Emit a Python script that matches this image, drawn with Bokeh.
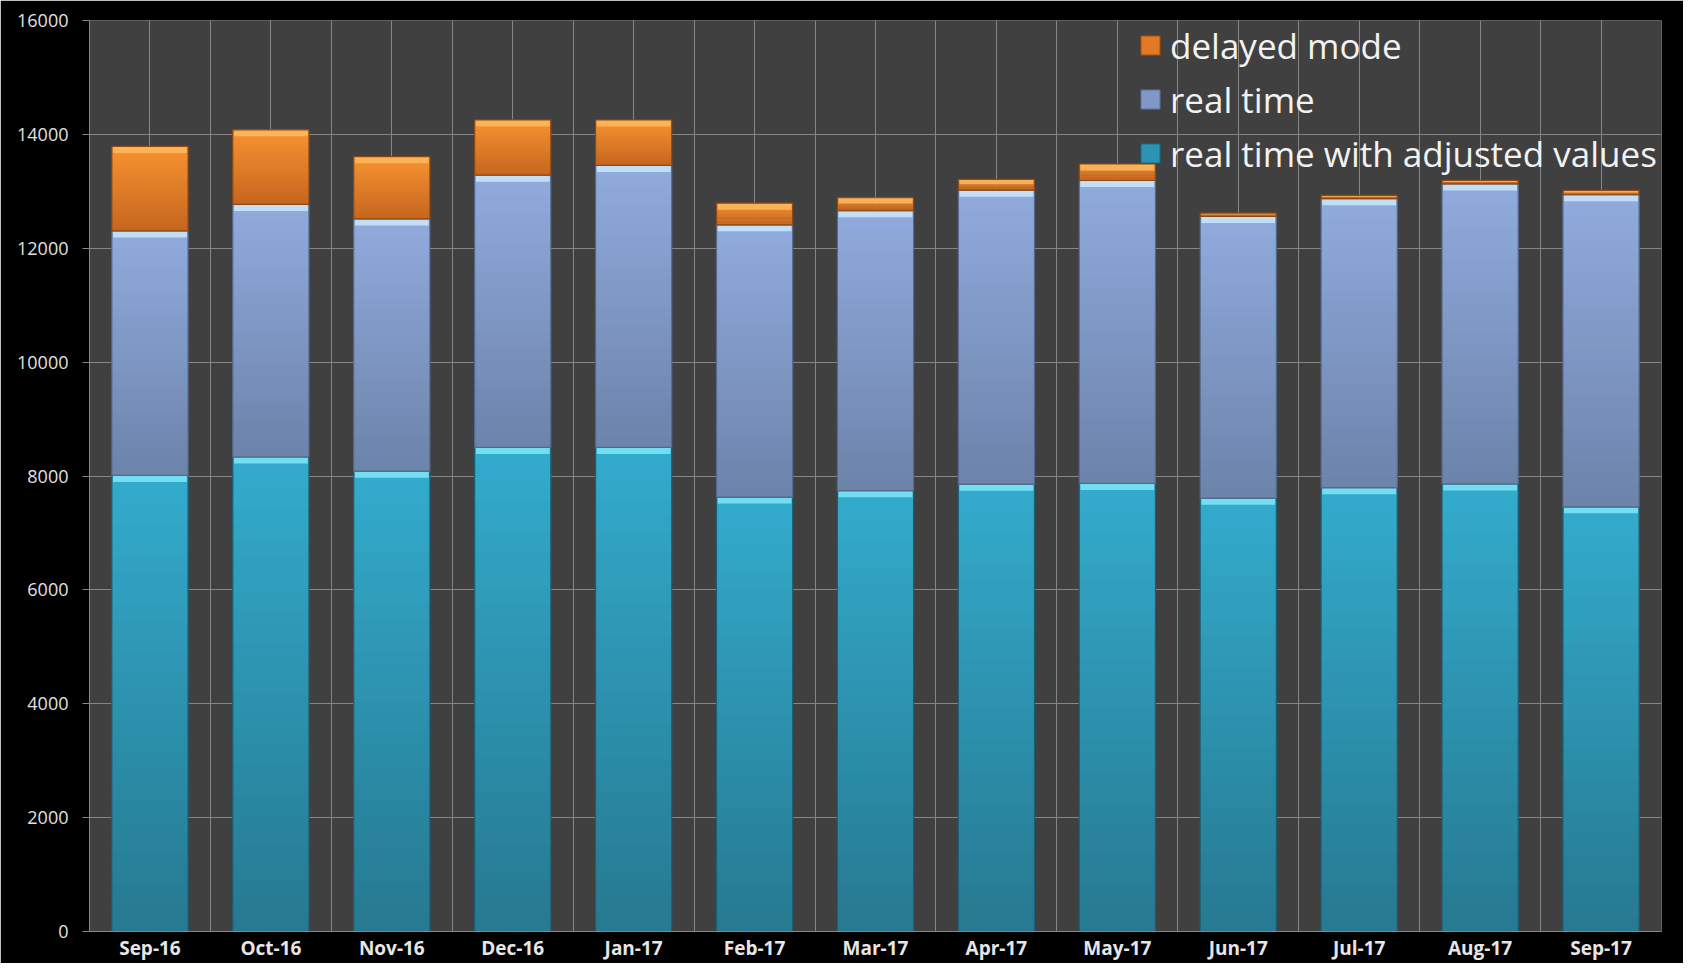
import numpy as np
from bokeh.plotting import figure
from bokeh.models import FixedTicker, Legend, LegendItem, Range1d, NumeralTickFormatter, ColumnDataSource
from bokeh.embed import file_html
from bokeh.resources import INLINE

# ---------------- data ----------------
months = ["Sep-16", "Oct-16", "Nov-16", "Dec-16", "Jan-17", "Feb-17", "Mar-17",
          "Apr-17", "May-17", "Jun-17", "Jul-17", "Aug-17", "Sep-17"]
adjusted = [8010, 8335, 8085, 8503, 8503, 7630, 7743, 7857, 7870, 7611, 7795, 7860, 7459]
real_time = [4295, 4435, 4430, 4782, 4953, 4782, 4916, 5163, 5320, 4949, 5075, 5270, 5481]
delayed = [1485, 1310, 1093, 968, 797, 380, 228, 189, 290, 58, 60, 63, 75]
y_ticks = [0, 2000, 4000, 6000, 8000, 10000, 12000, 14000, 16000]
series_names = ["delayed mode", "real time", "real time with adjusted values"]

# ---------------- styling ----------------
BAR_W = 0.63
N_SLICES = 28
FONT = "Open Sans"
STYLE = {
    "adjusted": dict(top="#33abcd", bot="#267990", hi="#7fe6f7", edge="#1d5f72", leg="#2c93b3"),
    "real_time": dict(top="#90abdd", bot="#6c83aa", hi="#cce8fc", edge="#56698c", leg="#7f98c8"),
    "delayed": dict(top="#f89331", bot="#c5661f", hi="#fdba5e", edge="#8f4813", leg="#e27a25"),
}


def hex2rgb(h):
    h = h.lstrip("#")
    return np.array([int(h[i:i + 2], 16) for i in (0, 2, 4)], dtype=float)


def mix(c_bot, c_top, f):
    a, b = hex2rgb(c_bot), hex2rgb(c_top)
    c = a + (b - a) * f
    return "#%02x%02x%02x" % tuple(int(round(v)) for v in c)


xc = np.arange(len(months)) + 0.5
adj = np.array(adjusted, float)
rt = np.array(real_time, float)
dl = np.array(delayed, float)
stack_lo = {"adjusted": np.zeros_like(adj), "real_time": adj, "delayed": adj + rt}
stack_hi = {"adjusted": adj, "real_time": adj + rt, "delayed": adj + rt + dl}

p = figure(width=1683, height=963, output_backend="svg", toolbar_location=None,
           x_range=Range1d(0, 13), y_range=Range1d(0, 16000),
           min_border_left=89, min_border_right=22, min_border_top=20, min_border_bottom=29,
           background_fill_color="#404040", border_fill_color="#000000")
p.outline_line_color = None

for key in ["adjusted", "real_time", "delayed"]:
    st = STYLE[key]
    lo_all, hi_all = stack_lo[key], stack_hi[key]
    xs, bs, ts, cs = [], [], [], []
    for xi, lo, hi in zip(xc, lo_all, hi_all):
        edges = np.linspace(lo, hi, N_SLICES + 1)
        step = edges[1] - edges[0]
        for k in range(N_SLICES):
            xs.append(xi)
            bs.append(edges[k])
            ts.append(min(edges[k + 1] + 0.6 * step, hi))
            cs.append(mix(st["bot"], st["top"], (k + 0.5) / N_SLICES))
    src = ColumnDataSource(dict(x=xs, bottom=bs, top=ts, color=cs))
    p.vbar(x="x", bottom="bottom", top="top", width=BAR_W, source=src,
           fill_color="color", line_color=None)
    # bevel highlight on top face
    h = hi_all - lo_all
    bevel = np.minimum(115.0, 0.45 * h)
    p.vbar(x=xc, bottom=hi_all - bevel, top=hi_all, width=BAR_W * 0.97,
           fill_color=st["hi"], fill_alpha=0.85, line_color=None)
    # outline
    p.vbar(x=xc, bottom=lo_all, top=hi_all, width=BAR_W,
           fill_alpha=0, line_color=st["edge"], line_width=1.2)

# legend proxies (placed outside the visible x range)
leg_r = {}
for key in ["delayed", "real_time", "adjusted"]:
    st = STYLE[key]
    leg_r[key] = p.vbar(x=[-5], top=[1], width=0.5, fill_color=st["leg"], line_color=st["edge"])

legend = Legend(items=[LegendItem(label=series_names[0], renderers=[leg_r["delayed"]]),
                       LegendItem(label=series_names[1], renderers=[leg_r["real_time"]]),
                       LegendItem(label=series_names[2], renderers=[leg_r["adjusted"]])],
                location=(1049, 751), orientation="vertical",
                background_fill_alpha=0, border_line_color=None,
                label_text_font=FONT, label_text_font_size="35px", label_text_color="#f2f2f2",
                glyph_width=24, glyph_height=24, label_standoff=8,
                padding=0, spacing=0, label_height=54, margin=0)
p.add_layout(legend)

# grids
p.xgrid.ticker = FixedTicker(ticks=[i * 0.5 for i in range(27)])
p.ygrid.ticker = FixedTicker(ticks=y_ticks)
for g in (p.xgrid, p.ygrid):
    g.grid_line_color = "#868686"
    g.grid_line_width = 1

# axes
p.xaxis.ticker = FixedTicker(ticks=list(xc))
p.xaxis.major_label_overrides = {float(v): m for v, m in zip(xc, months)}
p.xaxis.minor_tick_line_color = None
p.xaxis.major_tick_out = 0
p.xaxis.major_label_standoff = 3
p.xaxis.major_label_text_font = FONT
p.xaxis.major_label_text_font_style = "bold"
p.xaxis.major_label_text_font_size = "19px"
p.xaxis.major_label_text_color = "#e6e6e6"

p.yaxis.ticker = FixedTicker(ticks=y_ticks)
p.yaxis.formatter = NumeralTickFormatter(format="0")
p.yaxis.major_tick_out = 7
p.yaxis.major_tick_in = 0
p.yaxis.minor_tick_line_color = None
p.yaxis.major_label_standoff = 14
p.yaxis.major_label_text_font = FONT
p.yaxis.major_label_text_font_size = "18px"
p.yaxis.major_label_text_color = "#e0e0e0"

for ax in (p.xaxis, p.yaxis):
    ax.axis_line_color = "#868686"
p.yaxis.major_tick_line_color = "#868686"
p.xaxis.major_tick_line_color = None

open("out.html", "w").write(file_html(p, INLINE))
